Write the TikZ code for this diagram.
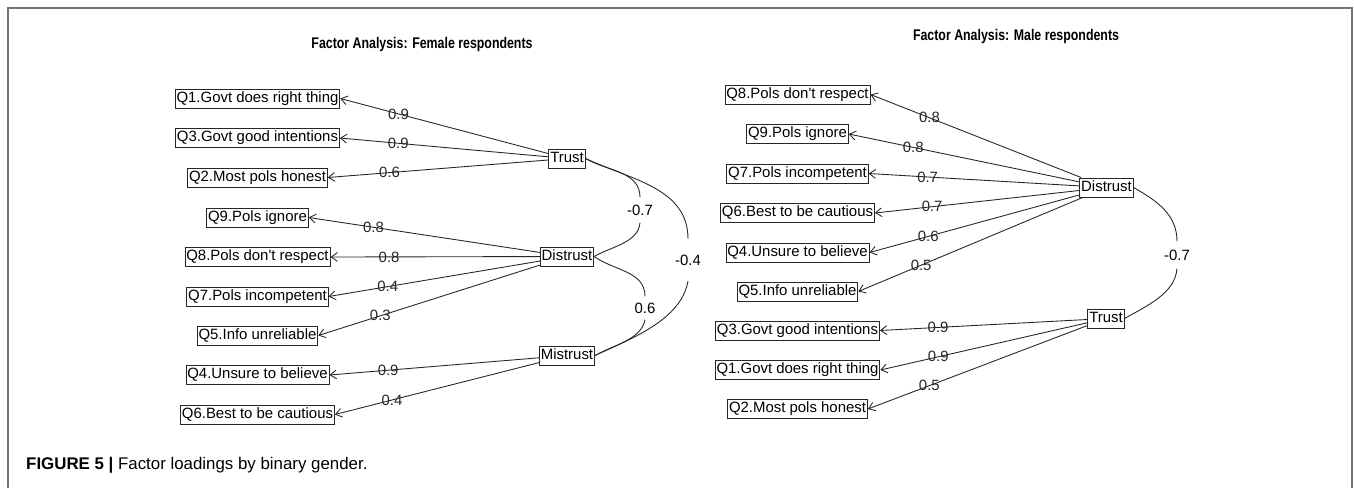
\documentclass[tikz,border=0pt]{standalone}
\usepackage{fontspec}
\setmainfont{Liberation Sans}
\usetikzlibrary{arrows.meta}
\definecolor{rahmen}{gray}{0.45}
\definecolor{strich}{gray}{0.15}
\newcommand{\schmal}[1]{\scalebox{0.8}[1]{#1}}
\tikzset{
  item/.style={draw=strich, line width=0.5pt, font=\fontsize{8.5}{10}\selectfont,
    inner xsep=0.8pt, inner ysep=1.3pt, text height=6.3pt, text depth=1.9pt}, % Kaesten
  ladung/.style={strich, line width=0.5pt, ->}, % Ladungspfeile
  wert/.style={font=\fontsize{8.5}{10}\selectfont, inner sep=0pt, pos=0.72},
  korr/.style={font=\fontsize{8.5}{10}\selectfont, inner xsep=0pt, inner ysep=#1},
  bogen/.style={strich, line width=0.5pt},
  titel/.style={font=\bfseries\fontsize{8.8}{10}\selectfont}
}

\begin{document}
\begin{tikzpicture}[
x=0.02cm, y=0.02cm,
>={Straight Barb[length=3.5pt,width=5pt]} % Pfeilspitzen
]
\useasboundingbox (0,0) rectangle (1354,-488);

%Rahmen
\draw[rahmen, line width=1.1pt] (8,-488) -- (8,-8) -- (1352,-8) -- (1352,-488);

%Titel
\node[titel] (tF) at (422,-44) {\schmal{Factor Analysis: Female respondents}};
\node[titel] (tM) at (1016,-36) {\schmal{Factor Analysis: Male respondents}};

%Items links
\foreach \n/\y/\t in {Q1/98.5/Q1.Govt does right thing, Q3/138/Q3.Govt good intentions,
  Q2/177.5/Q2.Most pols honest, Q9/217.5/Q9.Pols ignore,
  Q8/257/Q8.Pols don\textquotesingle t respect, Q7/296.5/Q7.Pols incompetent,
  Q5/335.5/Q5.Info unreliable, Q4/375/Q4.Unsure to believe,
  Q6/414.5/Q6.Best to be cautious}
  \node[item] (f\n) at (257.5,-\y) {\t};

%Faktoren links
\node[item] (fTrust) at (567,-158.5) {Trust};
\node[item] (fDistrust) at (567,-256.5) {Distrust};
\node[item] (fMistrust) at (567,-355.5) {Mistrust};

%Items rechts
\foreach \n/\y/\t in {Q8/94.5/Q8.Pols don\textquotesingle t respect, Q9/134/Q9.Pols ignore,
  Q7/173.5/Q7.Pols incompetent, Q6/213/Q6.Best to be cautious,
  Q4/252.5/Q4.Unsure to believe, Q5/291.5/Q5.Info unreliable,
  Q3/330.5/Q3.Govt good intentions, Q1/370/Q1.Govt does right thing,
  Q2/409/Q2.Most pols honest}
  \node[item] (m\n) at (797.5,-\y) {\t};

%Faktoren rechts
\node[item] (mDistrust) at (1106.5,-187.5) {Distrust};
\node[item] (mTrust) at (1106,-318.5) {Trust};

%Ladungen
\foreach \fak/\ite/\lad in {fTrust/fQ1/0.9, fTrust/fQ3/0.9, fTrust/fQ2/0.6,
  fDistrust/fQ9/0.8, fDistrust/fQ8/0.8, fDistrust/fQ7/0.4, fDistrust/fQ5/0.3,
  fMistrust/fQ4/0.9, fMistrust/fQ6/0.4,
  mDistrust/mQ8/0.8, mDistrust/mQ9/0.8, mDistrust/mQ7/0.7, mDistrust/mQ6/0.7,
  mDistrust/mQ4/0.6, mDistrust/mQ5/0.5,
  mTrust/mQ3/0.9, mTrust/mQ1/0.9, mTrust/mQ2/0.5}
  \draw[ladung] (\fak) -- node[wert]{\lad} (\ite.east);

%Korrelationen
\node[korr=4pt] (fK1) at (640,-210) {-0.7};
\node[korr=8.8pt] (fK2) at (688,-260) {-0.4};
\node[korr=3.4pt] (fK3) at (645,-308) {0.6};
\node[korr=4.5pt] (mK1) at (1177,-255) {-0.7};

\draw[bogen] (fTrust.east) to[out=-30,in=90] (fK1.north);
\draw[bogen] (fK1.south) to[out=-95,in=30,looseness=0.9] (fDistrust.east);
\draw[bogen] (fTrust.east) to[out=-25,in=90] (fK2.north);
\draw[bogen] (fK2.south) to[out=-100,in=25,looseness=0.85] (fMistrust.east);
\draw[bogen] (fDistrust.east) to[out=-35,in=90] (fK3.north);
\draw[bogen] (fK3.south) to[out=-100,in=30,looseness=0.85] (fMistrust.east);
\draw[bogen] (mDistrust.east) to[out=-30,in=90] (mK1.north);
\draw[bogen] (mK1.south) to[out=-95,in=30,looseness=0.9] (mTrust.east);

%Bildunterschrift
\node[anchor=west, font=\fontsize{9.6}{11}\selectfont] (cap) at (20,-465)
  {\textbf{FIGURE 5 |} Factor loadings by binary gender.};

\end{tikzpicture}
\end{document}
